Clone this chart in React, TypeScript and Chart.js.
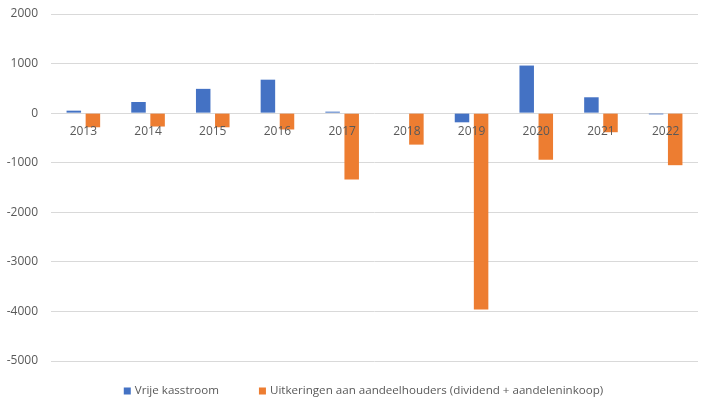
import React, { useEffect, useRef } from "react";
import { Chart, registerables } from "chart.js";

Chart.register(...registerables);

const categories = ["2013", "2014", "2015", "2016", "2017", "2018", "2019", "2020", "2021", "2022"];
const vrijeKasstroom = [50, 225, 490, 675, 30, 0, -185, 960, 320, -25];
const uitkeringen = [-285, -270, -285, -330, -1340, -635, -3960, -940, -385, -1050];
const seriesLabels = ["Vrije kasstroom", "Uitkeringen aan aandeelhouders (dividend + aandeleninkoop)"];
const seriesColors = ["#4472C4", "#ED7D31"];

const FONT = "'Open Sans', 'Liberation Sans', sans-serif";
const TEXT = "#595959";

const legendPlugin = {
  id: "bottomLegend",
  afterDraw(chart: any) {
    const ctx = chart.ctx as CanvasRenderingContext2D;
    ctx.save();
    ctx.font = `11.6px ${FONT}`;
    ctx.textBaseline = "middle";
    ctx.fillStyle = TEXT;
    const y = 391;
    const box = 7;
    const textGap = 4;
    const itemGap = 40;
    const items = chart.data.datasets.map((d: any) => ({
      label: d.label as string,
      color: d.backgroundColor as string,
      w: box + textGap + ctx.measureText(d.label).width,
    }));
    const total = items.reduce((s: number, it: any) => s + it.w, 0) + itemGap * (items.length - 1);
    let x = chart.width / 2 + 2 - total / 2;
    for (const it of items) {
      ctx.fillStyle = it.color;
      ctx.fillRect(x, y - box / 2, box, box);
      ctx.fillStyle = TEXT;
      ctx.fillText(it.label, x + box + textGap, y);
      x += it.w + itemGap;
    }
    ctx.restore();
  },
};

export default function App() {
  const ref = useRef<HTMLCanvasElement>(null);
  useEffect(() => {
    document.body.style.margin = "0";
    const chart = new Chart(ref.current!, {
      type: "bar",
      data: {
        labels: categories,
        datasets: [
          { label: seriesLabels[0], data: vrijeKasstroom, backgroundColor: seriesColors[0] },
          { label: seriesLabels[1], data: uitkeringen, backgroundColor: seriesColors[1] },
        ],
      },
      options: {
        animation: false,
        responsive: false,
        maintainAspectRatio: false,
        datasets: { bar: { categoryPercentage: 0.59, barPercentage: 0.76 } },
        layout: { padding: { left: 7, right: 25, top: 14, bottom: 47 } },
        plugins: { legend: { display: false }, tooltip: { enabled: false } },
        scales: {
          x: {
            position: { y: 0 } as any,
            grid: { display: false, drawTicks: false },
            border: { display: false },
            ticks: { z: 1, color: TEXT, font: { family: FONT, size: 12 }, padding: 11, maxRotation: 0 },
            afterFit: (s: any) => {
              s.paddingLeft = 0;
              s.paddingRight = 0;
            },
          },
          y: {
            min: -5000,
            max: 2000,
            grid: { color: "#d9d9d9", lineWidth: 1, drawTicks: false },
            border: { display: false },
            ticks: {
              stepSize: 1000,
              color: TEXT,
              font: { family: FONT, size: 12 },
              padding: 13,
              callback: (v: any) => String(v),
            },
            afterFit: (s: any) => {
              s.width = 44;
              s.paddingTop = 0;
              s.paddingBottom = 0;
            },
          },
        },
      },
      plugins: [legendPlugin],
    });
    return () => chart.destroy();
  }, []);
  return (
    <div style={{ width: 723, height: 408 }}>
      <canvas ref={ref} width={723} height={408} style={{ width: 723, height: 408 }} />
    </div>
  );
}
